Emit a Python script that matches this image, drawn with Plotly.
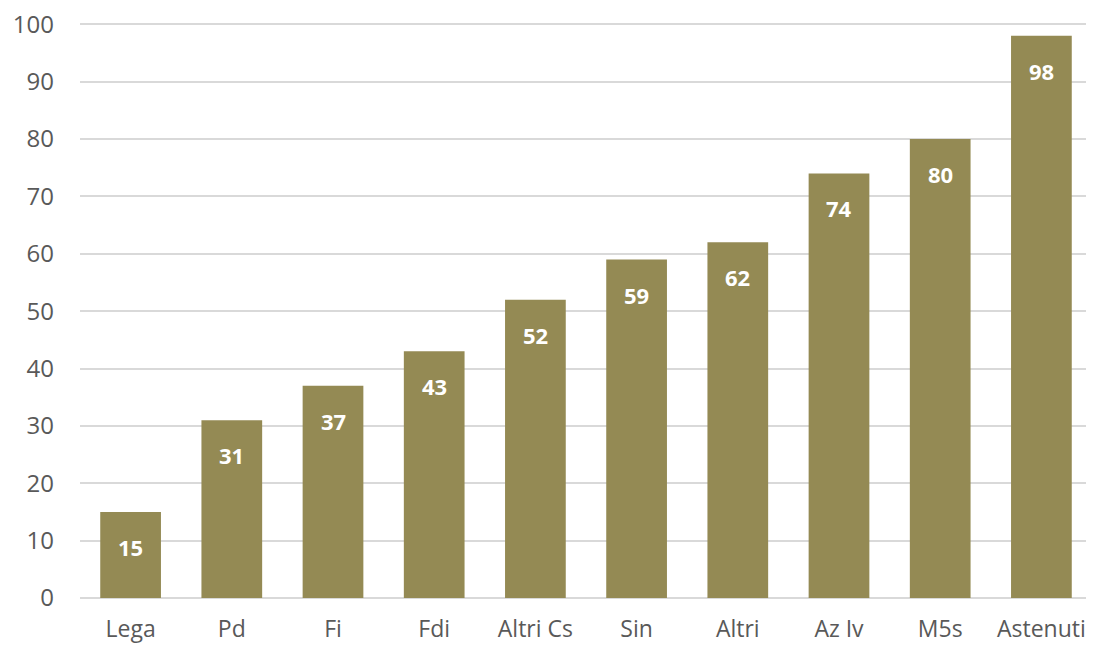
import plotly.graph_objects as go

categories = ["Lega", "Pd", "Fi", "Fdi", "Altri Cs", "Sin", "Altri", "Az Iv", "M5s", "Astenuti"]
values = [15, 31, 37, 43, 52, 59, 62, 74, 80, 98]
y_ticks = list(range(0, 101, 10))

FONT = "Open Sans"
fig = go.Figure(go.Bar(
    x=categories, y=values,
    marker=dict(color="#948a54", line=dict(width=0)),
    width=0.6,
    hoverinfo="x+y",
))
for c, v in zip(categories, values):
    fig.add_annotation(
        x=c, y=v, text=f"<b>{v}</b>", showarrow=False,
        yanchor="middle", yshift=-35,
        font=dict(family=FONT, size=22, color="white"),
    )
fig.update_layout(
    width=1086, height=640,
    margin=dict(l=72, r=2, t=14, b=50),
    paper_bgcolor="white", plot_bgcolor="white",
    showlegend=False,
    bargap=0.4,
)
fig.update_yaxes(
    range=[0, 100.4], tickvals=y_ticks,
    showgrid=True, gridcolor="#d9d9d9", gridwidth=2,
    zeroline=True, zerolinecolor="#d9d9d9", zerolinewidth=2,
    showline=False, ticks="",
    tickfont=dict(family=FONT, size=24, color="#595959"),
    ticklabelstandoff=25,
    ticklabeloverflow="allow",
    automargin=False,
)
fig.update_xaxes(
    showline=False, ticks="",
    tickfont=dict(family=FONT, size=23, color="#595959"),
    ticklabelstandoff=15,
    ticklabeloverflow="allow",
    automargin=False,
)
fig.write_html("out.html")
